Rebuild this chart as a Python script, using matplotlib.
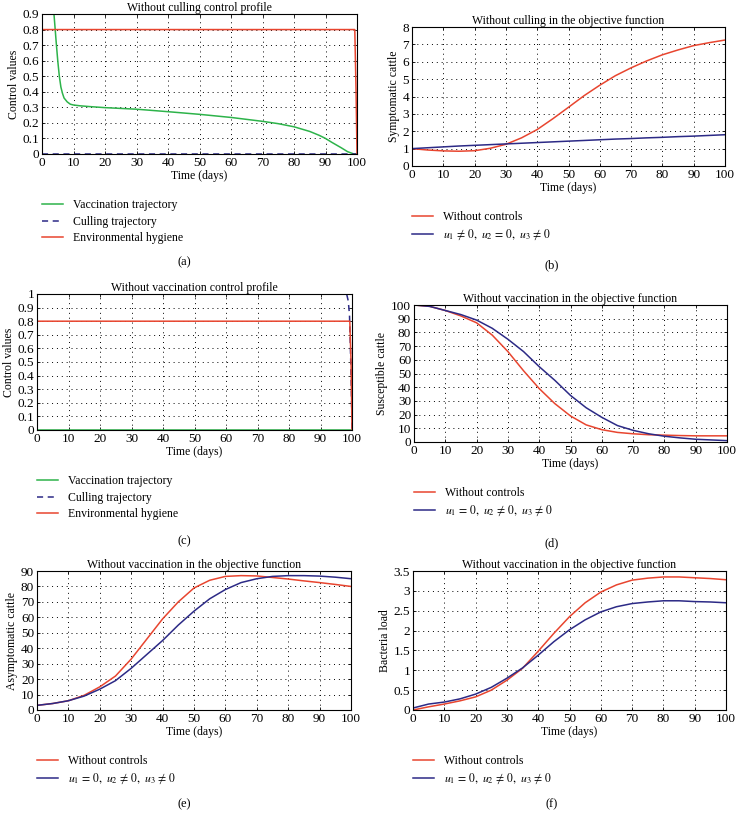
import numpy as np
import matplotlib
matplotlib.use("Agg")
import matplotlib.pyplot as plt

plt.rcParams['font.family'] = ['Liberation Serif', 'DejaVu Serif']
plt.rcParams['mathtext.fontset'] = 'stix'

RED = '#e8452f'
BLUE = '#2c2a86'
GREEN = '#2db34a'

# (a) without culling: control profiles
t_a = [0, 3, 3.8, 4.5, 5, 5.5, 6, 6.5, 7, 8, 9, 10, 12, 15, 20, 30, 40, 50, 60, 70, 75, 80, 85, 88, 90, 92, 95, 97, 99, 100]
vacc_a = [0.9, 0.9, 0.9, 0.72, 0.6, 0.5, 0.43, 0.39, 0.36, 0.335, 0.32, 0.315, 0.31, 0.305, 0.298, 0.288, 0.272, 0.255, 0.235, 0.21, 0.195, 0.175, 0.145, 0.12, 0.10, 0.075, 0.04, 0.015, 0.0, 0.0]
t_ctrl = [0, 98.8, 99.3, 99.7, 100]
cull_a = [0, 0, 0, 0, 0]
hyg_a = [0.8, 0.8, 0.8, 0.4, 0.0]

# (c) without vaccination: control profiles
vacc_c = [0, 0, 0, 0, 0]
t_cull_c = [0, 98.3, 98.8, 99.2, 99.5, 99.8, 100]
cull_c = [1.0, 1.0, 0.95, 0.85, 0.6, 0.3, 0.0]
hyg_c = [0.8, 0.8, 0.8, 0.5, 0.0]

days = [0, 5, 10, 15, 20, 25, 30, 35, 40, 45, 50, 55, 60, 65, 70, 75, 80, 85, 90, 95, 100]

# (b) symptomatic cattle
symp_none = [1.0, 0.92, 0.87, 0.85, 0.88, 1.02, 1.25, 1.62, 2.1, 2.72, 3.38, 4.05, 4.65, 5.2, 5.65, 6.05, 6.4, 6.68, 6.93, 7.1, 7.25]
symp_ctrl = [1.0, 1.05, 1.1, 1.15, 1.19, 1.23, 1.27, 1.31, 1.35, 1.39, 1.43, 1.47, 1.51, 1.55, 1.58, 1.62, 1.65, 1.69, 1.72, 1.76, 1.8]

# (d) susceptible cattle
susc_none = [100, 99, 96, 92, 87, 78, 66, 52, 39, 28, 19, 12.5, 9, 7, 6, 5.3, 5, 4.7, 4.5, 4.5, 4.5]
susc_ctrl = [100, 99, 96, 93, 89, 83, 75, 66, 55, 45, 34, 25, 18, 12, 8.5, 6, 4.2, 3, 2, 1.5, 1]

# (e) asymptomatic cattle
asym_none = [3, 4.2, 6, 9.5, 15, 22, 33, 46, 59, 70, 79, 84, 86.5, 87, 86.8, 85.8, 84.8, 83.6, 82.5, 81.3, 80]
asym_ctrl = [3, 4.2, 6, 9, 13.5, 19, 27, 36, 45, 55, 64, 72, 78, 82.5, 85, 86.5, 87, 87, 86.7, 86, 85]

# (f) bacteria load
bact_none = [0.0, 0.08, 0.15, 0.23, 0.33, 0.5, 0.75, 1.05, 1.48, 1.93, 2.35, 2.7, 2.97, 3.15, 3.27, 3.32, 3.35, 3.35, 3.33, 3.31, 3.28]
bact_ctrl = [0.05, 0.15, 0.2, 0.28, 0.4, 0.57, 0.8, 1.06, 1.38, 1.72, 2.02, 2.27, 2.47, 2.6, 2.68, 2.72, 2.75, 2.75, 2.73, 2.72, 2.7]

W, H = 736, 823
fig = plt.figure(figsize=(W / 100, H / 100), dpi=100)


def make_ax(x0, x1, y0, y1):
    return fig.add_axes([x0 / W, 1 - y1 / H, (x1 - x0) / W, (y1 - y0) / H])


def style(ax, title, ylabel, yticks, ytl, panel, label_y, colx):
    ax.set_xlim(0, 100)
    ax.set_ylim(yticks[0], yticks[-1])
    ax.set_xticks(range(0, 101, 10))
    ax.set_yticks(yticks)
    ax.set_yticklabels(ytl)
    ax.grid(True, color='black', linestyle=(0, (1, 4)), linewidth=0.7)
    ax.tick_params(direction='in', top=True, right=True, length=2.5, width=0.6,
                   labelsize=9.5, pad=2)
    for s in ax.spines.values():
        s.set_linewidth(0.8)
    ax.set_title(title, fontsize=8.5, pad=2)
    ax.set_xlabel('Time (days)', fontsize=8.5, labelpad=1)
    ax.set_ylabel(ylabel, fontsize=8.5, labelpad=2)
    pos = ax.get_position()
    ax.legend(loc='upper left', bbox_to_anchor=(pos.x0, pos.y0 - 45 / H),
              bbox_transform=fig.transFigure, frameon=False, fontsize=8.5,
              handlelength=1.8, handletextpad=0.8, labelspacing=0.4,
              borderaxespad=0, borderpad=0)
    fig.text(colx / W, 1 - label_y / H, '(' + panel + ')',
             ha='center', va='center', fontsize=9)


# (a)
ax = make_ax(42, 357, 14, 154)
ax.plot(t_a, vacc_a, color=GREEN, lw=1.1, label='Vaccination trajectory')
ax.plot(t_ctrl, cull_a, color=BLUE, lw=1.1, ls=(0, (4, 3)), label='Culling trajectory')
ax.plot(t_ctrl, hyg_a, color=RED, lw=1.1, label='Environmental hygiene')
style(ax, 'Without culling control profile', 'Control values',
      np.round(np.arange(0, 0.91, 0.1), 1), ['0'] + ['%.1f' % v for v in np.arange(0.1, 0.91, 0.1)],
      'a', 262, 184)

# (b)
ax = make_ax(412, 725, 27, 166)
ax.plot(days, symp_none, color=RED, lw=1.1, label='Without controls')
ax.plot(days, symp_ctrl, color=BLUE, lw=1.1, label=r'$u_1\,\neq\,0,\ u_2\,=\,0,\ u_3\,\neq\,0$')
style(ax, 'Without culling in the objective function', 'Symptomatic cattle',
      list(range(0, 9)), [str(v) for v in range(0, 9)], 'b', 265, 552)

# (c)
ax = make_ax(37, 352, 294, 430)
ax.plot(t_ctrl, vacc_c, color=GREEN, lw=1.1, label='Vaccination trajectory')
ax.plot(t_cull_c, cull_c, color=BLUE, lw=1.1, ls=(0, (4, 3)), label='Culling trajectory')
ax.plot(t_ctrl, hyg_c, color=RED, lw=1.1, label='Environmental hygiene')
style(ax, 'Without vaccination control profile', 'Control values',
      np.round(np.arange(0, 1.01, 0.1), 1), ['0'] + ['%.1f' % v for v in np.arange(0.1, 0.95, 0.1)] + ['1'],
      'c', 541, 184)

ctrl_lbl = r'$u_1\,=\,0,\ u_2\,\neq\,0,\ u_3\,\neq\,0$'

# (d)
ax = make_ax(414, 727, 305, 442)
ax.plot(days, susc_none, color=RED, lw=1.1, label='Without controls')
ax.plot(days, susc_ctrl, color=BLUE, lw=1.1, label=ctrl_lbl)
style(ax, 'Without vaccination in the objective function', 'Susceptible cattle',
      list(range(0, 101, 10)), [str(v) for v in range(0, 101, 10)], 'd', 543, 552)

# (e)
ax = make_ax(37, 351, 571, 710)
ax.plot(days, asym_none, color=RED, lw=1.1, label='Without controls')
ax.plot(days, asym_ctrl, color=BLUE, lw=1.1, label=ctrl_lbl)
style(ax, 'Without vaccination in the objective function', 'Asymptomatic cattle',
      list(range(0, 91, 10)), [str(v) for v in range(0, 91, 10)], 'e', 804, 184)

# (f)
ax = make_ax(413, 726, 571, 710)
ax.plot(days, bact_none, color=RED, lw=1.1, label='Without controls')
ax.plot(days, bact_ctrl, color=BLUE, lw=1.1, label=ctrl_lbl)
style(ax, 'Without vaccination in the objective function', 'Bacteria load',
      [0, 0.5, 1, 1.5, 2, 2.5, 3, 3.5], ['0', '0.5', '1', '1.5', '2', '2.5', '3', '3.5'], 'f', 804, 552)

fig.savefig('out.png', dpi=100)
